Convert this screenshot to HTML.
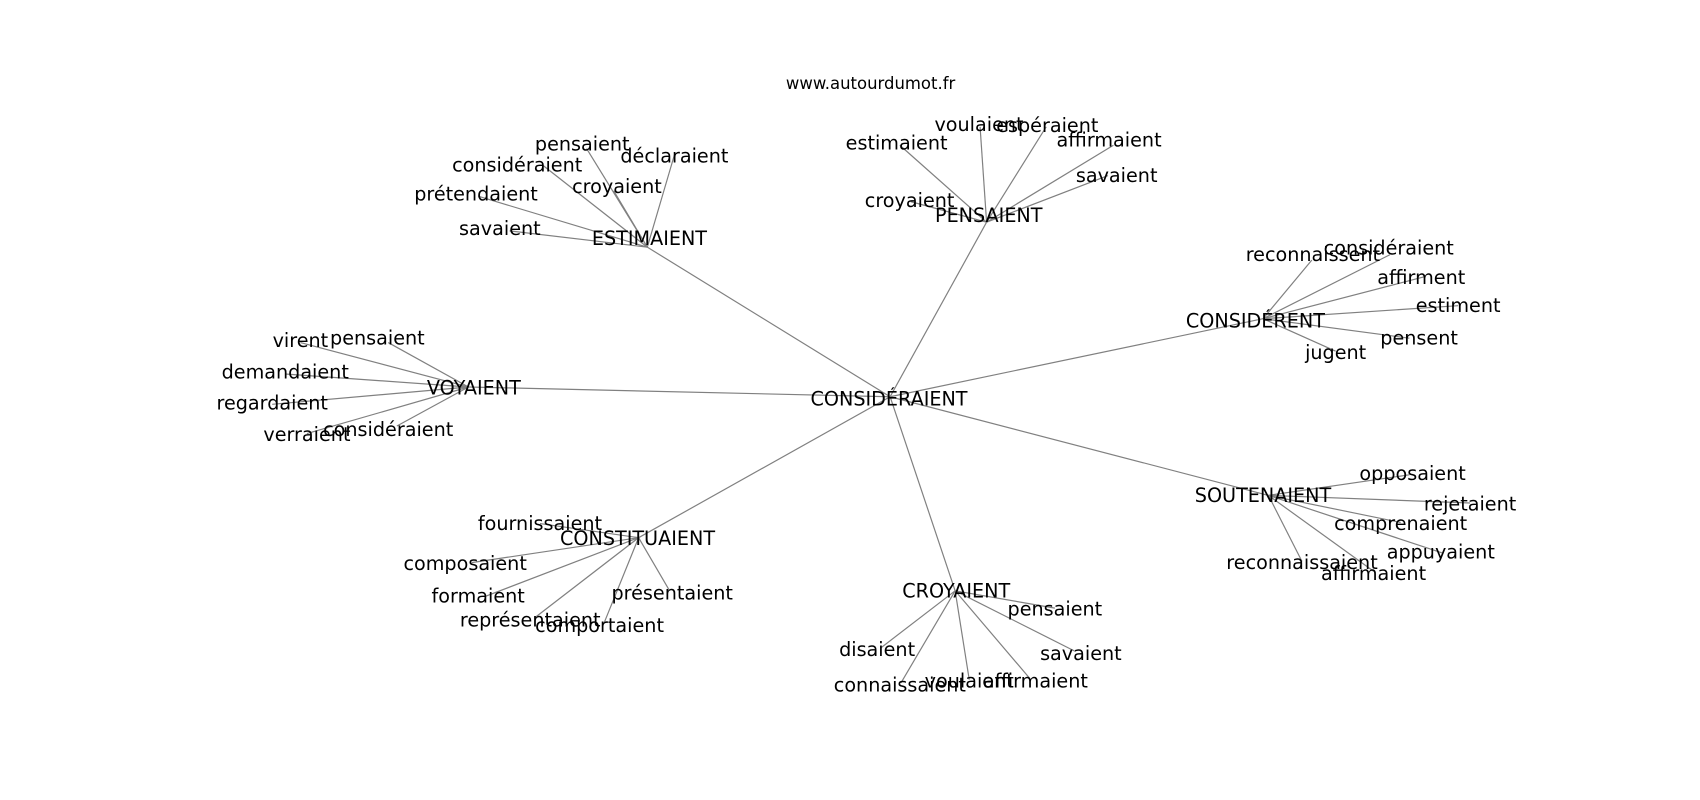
<!DOCTYPE html>
<html><head><meta charset="utf-8"><style>
html,body{margin:0;padding:0;background:#fff;width:1700px;height:800px;overflow:hidden}
svg{display:block}
text{font-family:"DejaVu Sans","Liberation Sans",sans-serif;font-size:17.7px;fill:#000;text-anchor:middle;dominant-baseline:central}
line{stroke:#808080;stroke-width:1.1}
</style></head><body>
<svg width="1700" height="800" viewBox="0 0 1568 738" xmlns="http://www.w3.org/2000/svg">
<g id="e">
<line x1="821" y1="366" x2="597" y2="228"/>
<line x1="821" y1="366" x2="910" y2="205"/>
<line x1="821" y1="366" x2="1165" y2="294"/>
<line x1="821" y1="366" x2="432" y2="357"/>
<line x1="821" y1="366" x2="589" y2="496"/>
<line x1="821" y1="366" x2="881" y2="545"/>
<line x1="821" y1="366" x2="1170" y2="457"/>
<line x1="597" y1="228" x2="541" y2="137"/>
<line x1="597" y1="228" x2="622" y2="143"/>
<line x1="597" y1="228" x2="500" y2="152"/>
<line x1="597" y1="228" x2="566" y2="176"/>
<line x1="597" y1="228" x2="441" y2="181"/>
<line x1="597" y1="228" x2="470" y2="213"/>
<line x1="910" y1="205" x2="904" y2="117"/>
<line x1="910" y1="205" x2="965" y2="117"/>
<line x1="910" y1="205" x2="830" y2="134"/>
<line x1="910" y1="205" x2="1027" y2="134"/>
<line x1="910" y1="205" x2="1022" y2="162"/>
<line x1="910" y1="205" x2="840" y2="186"/>
<line x1="1165" y1="294" x2="1210" y2="240"/>
<line x1="1165" y1="294" x2="1282" y2="235"/>
<line x1="1165" y1="294" x2="1315" y2="255"/>
<line x1="1165" y1="294" x2="1345" y2="282"/>
<line x1="1165" y1="294" x2="1300" y2="312"/>
<line x1="1165" y1="294" x2="1232" y2="324"/>
<line x1="432" y1="357" x2="277" y2="316"/>
<line x1="432" y1="357" x2="358" y2="316"/>
<line x1="432" y1="357" x2="263" y2="345"/>
<line x1="432" y1="357" x2="251" y2="373"/>
<line x1="432" y1="357" x2="283" y2="400"/>
<line x1="432" y1="357" x2="366" y2="393"/>
<line x1="589" y1="496" x2="498" y2="483"/>
<line x1="589" y1="496" x2="435" y2="519"/>
<line x1="589" y1="496" x2="448" y2="550"/>
<line x1="589" y1="496" x2="617" y2="544"/>
<line x1="589" y1="496" x2="493" y2="570"/>
<line x1="589" y1="496" x2="557" y2="575"/>
<line x1="881" y1="545" x2="973" y2="561"/>
<line x1="881" y1="545" x2="812" y2="598"/>
<line x1="881" y1="545" x2="992" y2="601"/>
<line x1="881" y1="545" x2="831" y2="630"/>
<line x1="881" y1="545" x2="894" y2="627"/>
<line x1="881" y1="545" x2="950" y2="626"/>
<line x1="1170" y1="457" x2="1300" y2="438"/>
<line x1="1170" y1="457" x2="1356" y2="464"/>
<line x1="1170" y1="457" x2="1292" y2="482"/>
<line x1="1170" y1="457" x2="1330" y2="510"/>
<line x1="1170" y1="457" x2="1201" y2="518"/>
<line x1="1170" y1="457" x2="1267" y2="527"/>
</g>
<g transform="translate(0,1)">
<text x="803" y="76" style="font-size:15.2px">www.autourdumot.fr</text>
<text x="820" y="367">CONSIDÉRAIENT</text>
<text x="599" y="219">ESTIMAIENT</text>
<text x="537" y="132">pensaient</text>
<text x="622" y="143">déclaraient</text>
<text x="477" y="151">considéraient</text>
<text x="569" y="171">croyaient</text>
<text x="439" y="178">prétendaient</text>
<text x="461" y="210">savaient</text>
<text x="912" y="198">PENSAIENT</text>
<text x="903" y="114">voulaient</text>
<text x="966" y="115">espéraient</text>
<text x="827" y="131">estimaient</text>
<text x="1023" y="128">affirmaient</text>
<text x="1030" y="161">savaient</text>
<text x="839" y="184">croyaient</text>
<text x="1158" y="295">CONSIDÉRENT</text>
<text x="1211" y="234">reconnaissent</text>
<text x="1281" y="228">considéraient</text>
<text x="1311" y="255">affirment</text>
<text x="1345" y="281">estiment</text>
<text x="1309" y="311">pensent</text>
<text x="1232" y="324">jugent</text>
<text x="437" y="357">VOYAIENT</text>
<text x="277" y="313">virent</text>
<text x="348" y="311">pensaient</text>
<text x="263" y="342">demandaient</text>
<text x="251" y="371">regardaient</text>
<text x="283" y="400">verraient</text>
<text x="358" y="395">considéraient</text>
<text x="588" y="496">CONSTITUAIENT</text>
<text x="498" y="482">fournissaient</text>
<text x="429" y="519">composaient</text>
<text x="441" y="549">formaient</text>
<text x="620" y="546">présentaient</text>
<text x="489" y="571">représentaient</text>
<text x="553" y="576">comportaient</text>
<text x="882" y="544">CROYAIENT</text>
<text x="973" y="561">pensaient</text>
<text x="809" y="598">disaient</text>
<text x="997" y="602">savaient</text>
<text x="830" y="631">connaissaient</text>
<text x="894" y="627">voulaient</text>
<text x="955" y="627">affirmaient</text>
<text x="1165" y="456">SOUTENAIENT</text>
<text x="1303" y="436">opposaient</text>
<text x="1356" y="464">rejetaient</text>
<text x="1292" y="482">comprenaient</text>
<text x="1329" y="508">appuyaient</text>
<text x="1201" y="518">reconnaissaient</text>
<text x="1267" y="528">affirmaient</text>
</g>
</svg>
</body></html>
